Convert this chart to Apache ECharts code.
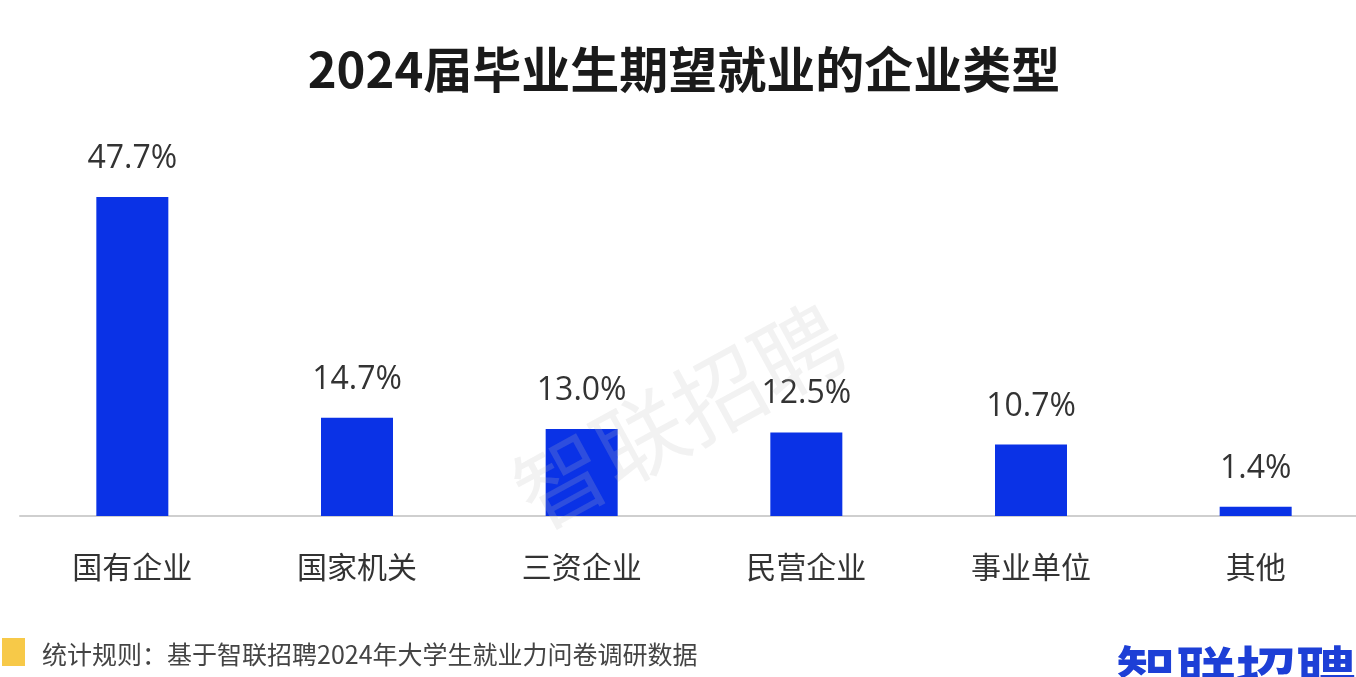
<!DOCTYPE html>
<html><head><meta charset="utf-8">
<script src="https://cdn.jsdelivr.net/npm/echarts@6/dist/echarts.min.js"></script>
<style>html,body{margin:0;padding:0;background:#fff;overflow:hidden}#c{width:1368px;height:677px}</style>
</head><body><div id="c"></div>
<script>
const titleText = '2024届毕业生期望就业的企业类型';
const categories = ['国有企业','国家机关','三资企业','民营企业','事业单位','其他'];
const values = [47.7, 14.7, 13.0, 12.5, 10.7, 1.4];
const footnote = '统计规则：基于智联招聘2024年大学生就业力问卷调研数据';
const brand = '智联招聘';

const chart = echarts.init(document.getElementById('c'));
chart.setOption({
  backgroundColor: '#fff',
  animation: false,
  title: {
    text: titleText, left: 'center', top: 40,
    textStyle: {fontSize: 49, fontWeight: 'bold', color: '#1a1a1a', fontFamily: 'Noto Sans CJK SC'}
  },
  grid: {left: 20, right: 0, top: 181.5, bottom: 161},
  xAxis: {
    type: 'category', data: categories,
    axisLine: {lineStyle: {color: '#cfcfcf', width: 2}},
    axisTick: {show: false},
    axisLabel: {fontSize: 30, color: '#333', margin: 36, fontFamily: 'Noto Sans CJK SC'}
  },
  yAxis: {type: 'value', min: 0, max: 50, show: false, splitLine: {show: false}},
  graphic: [
    {type: 'text', left: 500, top: 290, rotation: 0.5, z: 10, silent: true,
     style: {text: brand, fontSize: 90, fill: 'rgba(190,190,190,0.2)', fontFamily: 'Noto Sans CJK SC'}},
    {type: 'rect', shape: {x: 2, y: 638, width: 23, height: 28}, style: {fill: '#f7c948'}},
    {type: 'text', left: 42, top: 642, style: {text: footnote, fontSize: 25, fill: '#444', fontFamily: 'Noto Sans CJK SC'}},
    {type: 'text', left: 1116, top: 644, style: {text: brand, fontSize: 60, fontWeight: 'bold', fill: '#1d3fd6', fontFamily: 'Noto Sans CJK SC'}}
  ],
  series: [{
    type: 'bar', data: values, barWidth: 72,
    itemStyle: {color: '#0a32e6'},
    label: {show: true, position: 'top', distance: 22, formatter: p => p.value.toFixed(1) + '%',
            fontSize: 32, color: '#333', fontFamily: 'Open Sans'}
  }]
});
</script></body></html>
